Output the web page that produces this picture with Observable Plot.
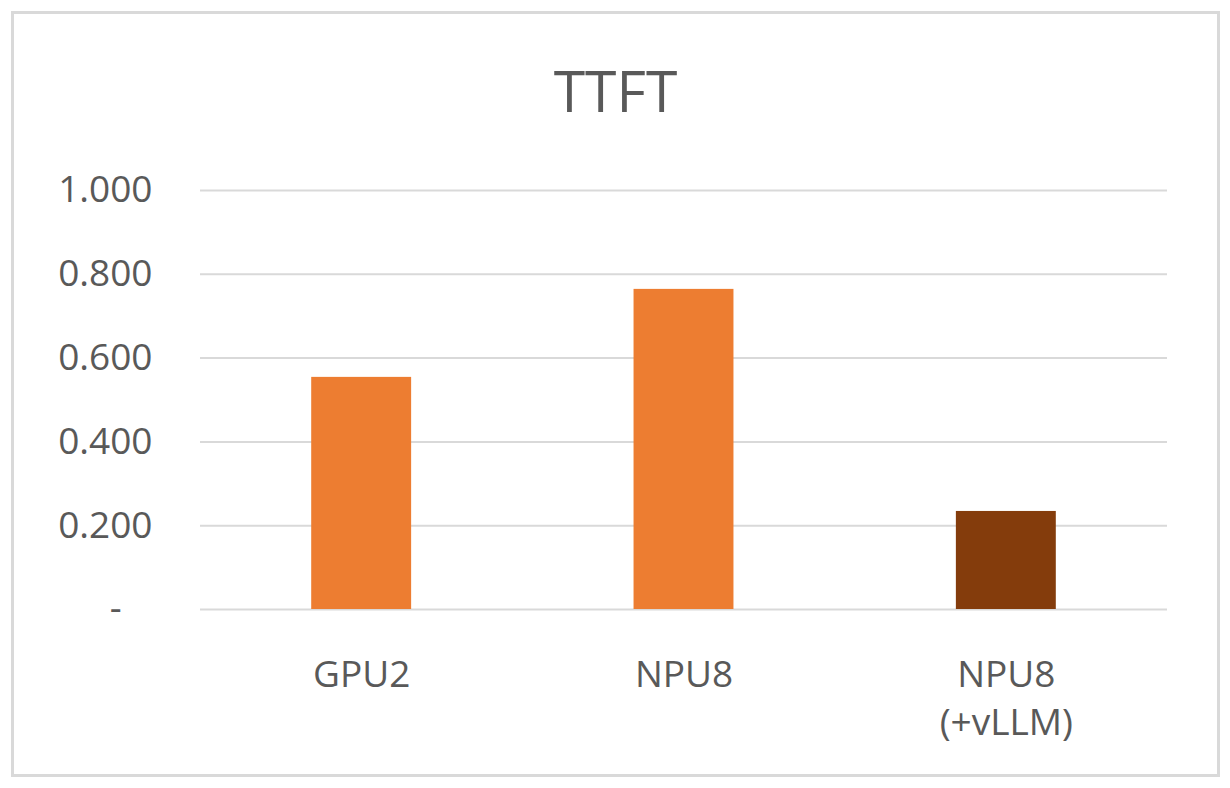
<!DOCTYPE html>
<html>
<head>
<meta charset="utf-8">
<script src="https://cdn.jsdelivr.net/npm/d3@7"></script>
<script src="https://cdn.jsdelivr.net/npm/@observablehq/plot@0.6"></script>
<style>
  html, body { margin: 0; padding: 0; background: #ffffff; }
  #frame {
    position: absolute; left: 11px; top: 11px; width: 1209px; height: 766px;
    box-sizing: border-box; border: 3px solid #d9d9d9; background: #fff;
  }
  #title {
    position: absolute; left: 0; right: 0; top: 48px;
    text-align: center; font-family: "Open Sans", sans-serif; font-size: 57px;
    line-height: 1; color: #595959; font-weight: 400;
  }
  #chart { position: absolute; left: 0; top: 138px; }
</style>
</head>
<body>
<div id="frame">
  <div id="title">TTFT</div>
  <div id="chart"></div>
</div>
<script>
const categories = ["GPU2", "NPU8", "NPU8\n(+vLLM)"];
const ttft = [0.554, 0.764, 0.234];
const barColors = ["#ED7D31", "#ED7D31", "#843C0C"];
const yTicks = [0, 0.2, 0.4, 0.6, 0.8, 1.0];

const data = categories.map((c, i) => ({category: c, value: ttft[i], color: barColors[i]}));

const chart = Plot.plot({
  width: 1203,
  height: 620,
  marginLeft: 186,
  marginRight: 50,
  marginTop: 38,
  marginBottom: 163,
  style: {fontFamily: "Open Sans, sans-serif", fontSize: "37px", color: "#595959", background: "transparent", overflow: "visible"},
  x: {domain: categories, paddingInner: 0.69, paddingOuter: 0.345, round: false, label: null},
  y: {domain: [0, 1], label: null},
  color: {type: "identity"},
  marks: [
    Plot.gridY(yTicks, {stroke: "#d9d9d9", strokeOpacity: 1, strokeWidth: 2}),
    Plot.barY(data, {x: "category", y: "value", fill: "color"}),
    Plot.axisY(yTicks, {tickSize: 0, tickPadding: 48, label: null,
      tickFormat: d => d === 0 ? "-\u2007\u2008" : d.toFixed(3)}),
    Plot.axisX({tickSize: 0, tickPadding: 43, label: null, lineHeight: 1.3})
  ]
});
document.getElementById("chart").appendChild(chart);
</script>
</body>
</html>
